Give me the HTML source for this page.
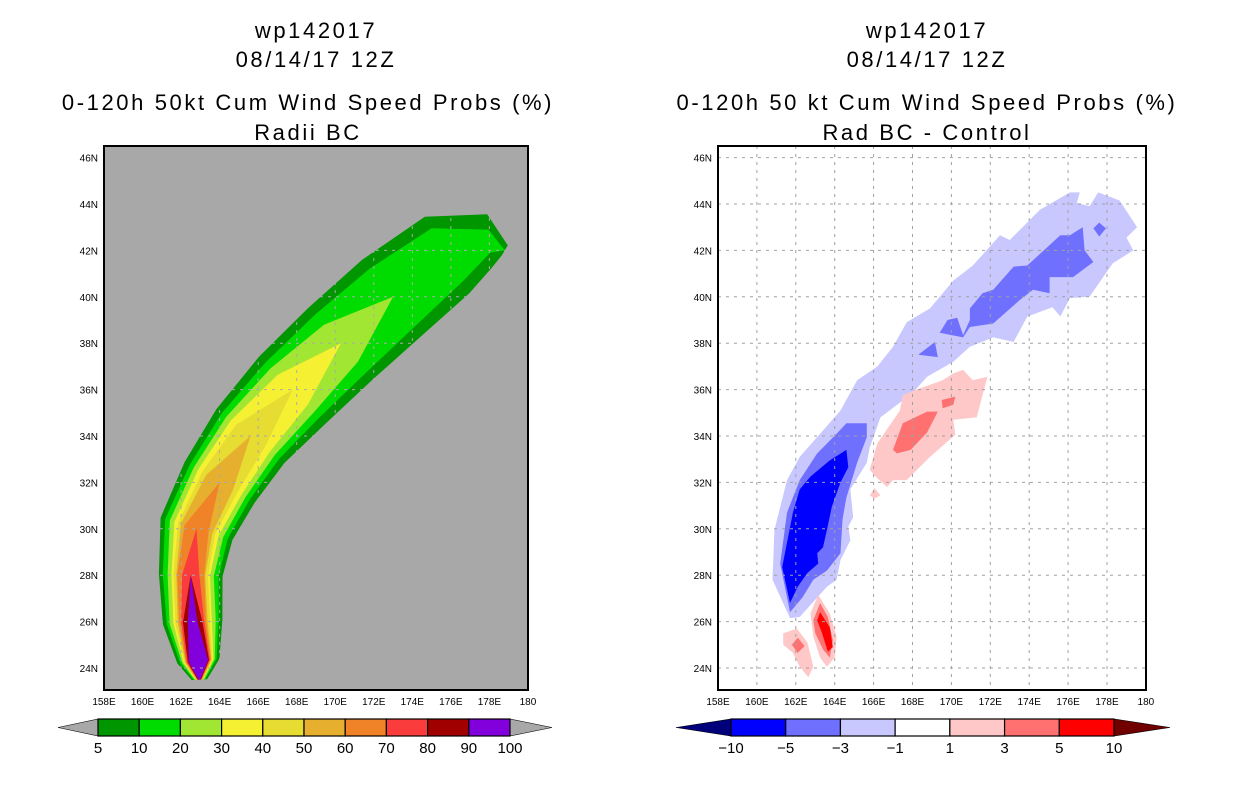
<!DOCTYPE html>
<html><head><meta charset="utf-8"><style>
html,body{margin:0;padding:0;background:#fff;width:1236px;height:800px;overflow:hidden}
svg{display:block;font-family:"Liberation Sans",sans-serif}
.t{font-size:22px;text-anchor:middle;fill:#000;letter-spacing:2.6px}
.tk{font-size:10px;fill:#000}
.cb{font-size:15px;fill:#000;text-anchor:middle}
</style></head><body>
<svg id="s" width="1236" height="800" viewBox="0 0 1236 800">
<defs>
<clipPath id="cl"><rect x="104" y="146" width="424" height="544"/></clipPath>
<clipPath id="cr"><rect x="718" y="146" width="428" height="544"/></clipPath>
</defs>
<g>
<text class="t" x="316" y="38">wp142017</text>
<text class="t" x="316" y="67">08/14/17 12Z</text>
<text class="t" x="308" y="110">0-120h 50kt Cum Wind Speed Probs (%)</text>
<text class="t" x="308" y="140">Radii BC</text>
</g>
<g>
<text class="t" x="927" y="38">wp142017</text>
<text class="t" x="927" y="67">08/14/17 12Z</text>
<text class="t" x="927" y="110">0-120h 50 kt Cum Wind Speed Probs (%)</text>
<text class="t" x="927" y="140">Rad BC - Control</text>
</g>
<rect x="104" y="146" width="424" height="544" fill="#a8a8a8"/>
<g id="lplot" clip-path="url(#cl)"></g>
<g id="lgrid" clip-path="url(#cl)"></g>
<rect x="104" y="146" width="424" height="544" fill="none" stroke="#000" stroke-width="2"/>
<g id="rplot" clip-path="url(#cr)"></g>
<g id="rgrid" clip-path="url(#cr)"></g>
<rect x="718" y="146" width="428" height="544" fill="none" stroke="#000" stroke-width="2"/>
<g id="axes"></g>
<g id="cbars"></g>
</svg>
<script>
// ---- axis data ----
const lonTicks=[158,160,162,164,166,168,170,172,174,176,178,180];
const latTicks=[24,26,28,30,32,34,36,38,40,42,44,46];
// ---- left plot: track centerline and contour half-widths (deg) ----
const trackLon=[162.95,162.9,162.6,162.5,162.8,164.0,165.6,167.8,170.3,173.0,175.8,178.0,178.8];
const trackLat=[23.5,24.3,26.0,28.0,30.0,32.0,34.0,36.0,38.0,40.0,41.8,42.4,42.0];
const probLevels=[5,10,20,30,40,50,60,70,80,90];
const w5 =[0.4,1.1,1.55,1.65,1.95,2.1,2.25,2.45,2.5,2.5,2.3,1.4,0.3];
const w10=[0.3,0.95,1.35,1.45,1.7,1.8,1.9,2.0,2.0,1.9,1.6,0.6,0];
const w20=[0.25,0.85,1.2,1.2,1.45,1.55,1.6,1.6,1.3,0,0,0,0];
const w30=[0.2,0.78,1.0,1.0,1.2,1.3,1.3,1.1,0,0,0,0,0];
const w40=[0.18,0.72,0.9,0.9,1.0,1.05,0.95,0,0,0,0,0,0];
const w50=[0.15,0.68,0.78,0.75,0.85,0.8,0,0,0,0,0,0,0];
const w60=[0.12,0.65,0.7,0.7,0.65,0,0,0,0,0,0,0,0];
const w70=[0.1,0.6,0.6,0.45,0,0,0,0,0,0,0,0,0];
const w80=[0.08,0.55,0.5,0,0,0,0,0,0,0,0,0,0];
const w90=[0.05,0.5,0.25,0,0,0,0,0,0,0,0,0,0];
const probColors=["#009600","#00dc00","#a0e632","#f5f032","#e6dc32","#e6af2d","#f08228","#fa3c3c","#a00000","#8200dc"];
const cbLeftLabels=["5","10","20","30","40","50","60","70","80","90","100"];
// ---- right plot: difference contour polygons [lon,lat] ----
const lightBlue=[[161.7,26.15],[160.8,27.8],[160.9,29.95],[161.55,32.1],[162.2,33.1],[163.25,34.1],[164.3,35.1],[165.15,36.4],[166.2,37.0],[167.0,37.85],[167.7,38.9],[168.9,39.5],[170.1,40.7],[171.1,41.35],[172.5,42.65],[173.0,42.45],[174.55,43.75],[176.1,44.5],[176.6,44.5],[176.45,44.05],[177.1,43.9],[177.55,44.5],[178.65,44.15],[179.55,43.0],[179.0,42.55],[179.35,42.0],[178.3,41.45],[177.1,40.0],[176.1,39.95],[175.6,39.15],[175.2,39.55],[173.9,39.15],[173.2,38.05],[172.15,38.25],[170.95,37.85],[170.1,37.2],[168.75,36.55],[168.0,35.85],[166.35,34.8],[165.8,33.5],[165.65,32.85],[164.8,31.7],[164.95,30.5],[164.7,30.1],[164.8,29.5],[164.3,28.65],[164.1,27.8],[163.6,27.5],[162.2,26.2]];
const medBlueLow=[[161.7,26.4],[161.2,28.5],[161.55,30.7],[162.2,32.1],[163.1,33.25],[164.1,34.1],[164.6,34.55],[165.65,34.55],[165.65,33.95],[165.15,32.85],[164.6,31.35],[164.4,30.4],[164.3,28.95],[163.6,28.2],[162.9,27.8],[162.35,27.05]];
const medBlueUp=[[169.4,38.45],[169.8,39.0],[170.3,39.1],[170.6,38.35],[170.95,39.0],[170.95,39.5],[171.6,40.15],[172.15,40.3],[173.2,41.3],[173.9,41.35],[175.6,42.65],[176.1,42.65],[176.75,43.0],[176.85,42.0],[177.3,41.5],[176.25,40.85],[175.05,40.85],[175.05,40.15],[174.2,40.3],[173.5,39.85],[172.15,38.85],[170.95,38.7],[170.6,38.25]];
const medBlueTri=[[168.3,37.5],[169.15,38.05],[169.3,37.4]];
const medBlueDia=[[177.3,42.95],[177.6,43.2],[177.95,42.95],[177.6,42.6]];
const darkBlue=[[161.7,26.8],[161.3,28.35],[161.85,30.7],[162.2,31.7],[162.75,32.25],[163.75,32.95],[164.6,33.4],[164.7,32.65],[164.3,32.0],[163.85,30.95],[163.6,29.95],[163.4,29.2],[163.1,28.95],[163.15,28.5],[162.6,28.1],[162.1,27.5]];
const pinkMain=[[165.8,32.55],[166.2,33.7],[167.35,35.1],[167.5,35.75],[168.2,36.0],[169.55,36.4],[170.1,36.7],[170.6,36.85],[171.1,36.4],[171.85,36.55],[171.3,34.8],[170.1,34.7],[170.2,34.05],[168.9,33.1],[167.7,32.1],[167.0,32.1],[166.7,31.8],[166.1,32.25]];
const pinkTiny=[[165.8,31.45],[166.05,31.75],[166.35,31.45],[166.05,31.3]];
const pinkA=[[161.35,25.5],[162.05,25.7],[162.6,25.1],[162.9,24.05],[162.65,23.6],[162.2,24.05],[161.85,24.65],[161.35,25.0]];
const pinkB=[[162.75,26.35],[163.15,27.15],[163.75,26.35],[164.1,25.35],[164.0,24.45],[163.6,24.05],[163.25,24.45],[162.9,25.35]];
const salmonMain=[[167.0,33.4],[167.5,34.55],[168.75,35.05],[169.3,35.05],[168.75,34.15],[167.9,33.4],[167.2,33.25]];
const salmonSmall=[[169.5,35.55],[170.2,35.7],[170.1,35.35],[169.55,35.2]];
const salmonA=[[161.8,25.0],[162.1,25.3],[162.45,24.95],[162.1,24.65]];
const salmonB=[[162.9,26.05],[163.25,26.8],[163.65,26.2],[163.9,25.2],[163.75,24.45],[163.4,24.8],[163.0,25.5]];
const redB=[[163.1,26.05],[163.25,26.4],[163.75,25.75],[163.9,24.9],[163.65,24.7],[163.35,25.5]];
const diffColors=["#0000ff","#7070ff","#c8c8ff","#ffffff","#ffc8c8","#ff7070","#ff0000"];
const cbRightLabels=["\u221210","\u22125","\u22123","\u22121","1","3","5","10"];

const NS="http://www.w3.org/2000/svg";
function mk(tag,parent,attrs){const e=document.createElementNS(NS,tag);for(const k in attrs)e.setAttribute(k,attrs[k]);parent.appendChild(e);return e;}
const LX=lon=>104+(lon-158)*19.27;
const RX=lon=>718+(lon-158)*19.45;
const Y=lat=>668-(lat-24)*23.2;

// left contours
const lp=document.getElementById('lplot');
const widths=[w5,w10,w20,w30,w40,w50,w60,w70,w80,w90];
const cx=trackLon.map(LX), cy=trackLat.map(Y);
const N=cx.length;
widths.forEach((w,li)=>{
  let first=-1,last=-1;
  w.forEach((v,i)=>{if(v>0){if(first<0)first=i;last=i;}});
  if(first<0)return;
  const lo=Math.max(0,first-1),hi=Math.min(N-1,last+1);
  const L=[],R=[];
  for(let i=lo;i<=hi;i++){
    const a=Math.max(0,i-1),b=Math.min(N-1,i+1);
    let tx=cx[b]-cx[a],ty=cy[b]-cy[a];const m=Math.hypot(tx,ty)||1;tx/=m;ty/=m;
    const nx=-ty,ny=tx,d=w[i]*19.27;
    L.push((cx[i]+nx*d).toFixed(1)+','+(cy[i]+ny*d).toFixed(1));
    R.unshift((cx[i]-nx*d).toFixed(1)+','+(cy[i]-ny*d).toFixed(1));
  }
  const p=mk('polygon',lp,{points:L.concat(R).join(' '),fill:probColors[li]});
  
  
});

// right contours
const rp=document.getElementById('rplot');
const shapes=[[lightBlue,2,'diff-light-blue'],[medBlueLow,1,'diff-mid-blue-south'],[medBlueUp,1,'diff-mid-blue-north'],[medBlueTri,1,'diff-mid-blue-small'],[medBlueDia,1,'diff-mid-blue-diamond'],[darkBlue,0,'diff-dark-blue'],[pinkMain,4,'diff-pink-main'],[pinkTiny,4,'diff-pink-tiny'],[pinkA,4,'diff-pink-a'],[pinkB,4,'diff-pink-b'],[salmonMain,5,'diff-salmon-main'],[salmonSmall,5,'diff-salmon-small'],[salmonA,5,'diff-salmon-a'],[salmonB,5,'diff-salmon-b'],[redB,6,'diff-red-b']];
shapes.forEach(s=>{
  const p=mk('polygon',rp,{points:s[0].map(q=>RX(q[0]).toFixed(1)+','+Y(q[1]).toFixed(1)).join(' '),fill:diffColors[s[1]]});
  
  
});

// grids
function grid(g,X,x0,x1,col){
  lonTicks.slice(1,-1).forEach(l=>{const e=mk('line',g,{x1:X(l),x2:X(l),y1:146,y2:690,stroke:col,'stroke-width':1,'stroke-dasharray':'3,5'});
    
    });
  latTicks.forEach(l=>{const e=mk('line',g,{x1:x0,x2:x1,y1:Y(l),y2:Y(l),stroke:col,'stroke-width':1,'stroke-dasharray':'3,5'});
    
    });
}
grid(document.getElementById('lgrid'),LX,104,528,'#aaaaaa');
grid(document.getElementById('rgrid'),RX,718,1146,'#a0a0a0');

// axis labels
const ax=document.getElementById('axes');
[[LX,104],[RX,718]].forEach(([X,x0])=>{
  latTicks.forEach(l=>{const t=mk('text',ax,{x:x0-6,y:Y(l)+4,'text-anchor':'end',class:'tk'});t.textContent=l+'N';
    
    });
  lonTicks.forEach(l=>{const t=mk('text',ax,{x:X(l),y:705,'text-anchor':'middle',class:'tk'});t.textContent=l===180?'180':l+'E';
    
    });
});

// colorbars
const cb=document.getElementById('cbars');
function bar(x0,x1,tipL,tipR,cols,labels,triL,triR,nm){
  const n=cols.length,bw=(x1-x0)/n,y0=719,y1=736,ym=727.5;
  const a=mk('polygon',cb,{points:`${tipL},${ym} ${x0},${y0} ${x0},${y1}`,fill:triL,stroke:'#000','stroke-width':0.6});
  
  
  const b=mk('polygon',cb,{points:`${tipR},${ym} ${x1},${y0} ${x1},${y1}`,fill:triR,stroke:'#000','stroke-width':0.6});
  
  
  cols.forEach((c,i)=>{const r=mk('rect',cb,{x:x0+i*bw,y:y0,width:bw,height:y1-y0,fill:c,stroke:'#000','stroke-width':1.2});
    
    });
  labels.forEach((s,i)=>{const t=mk('text',cb,{x:x0+i*bw,y:753,class:'cb'});t.textContent=s;
    
    });
}
bar(98,510,58,552,probColors,cbLeftLabels,'#a8a8a8','#a8a8a8','prob-colorbar');
bar(731,1114,676,1170,diffColors,cbRightLabels,'#00007a','#700000','diff-colorbar');
</script>
</body></html>
